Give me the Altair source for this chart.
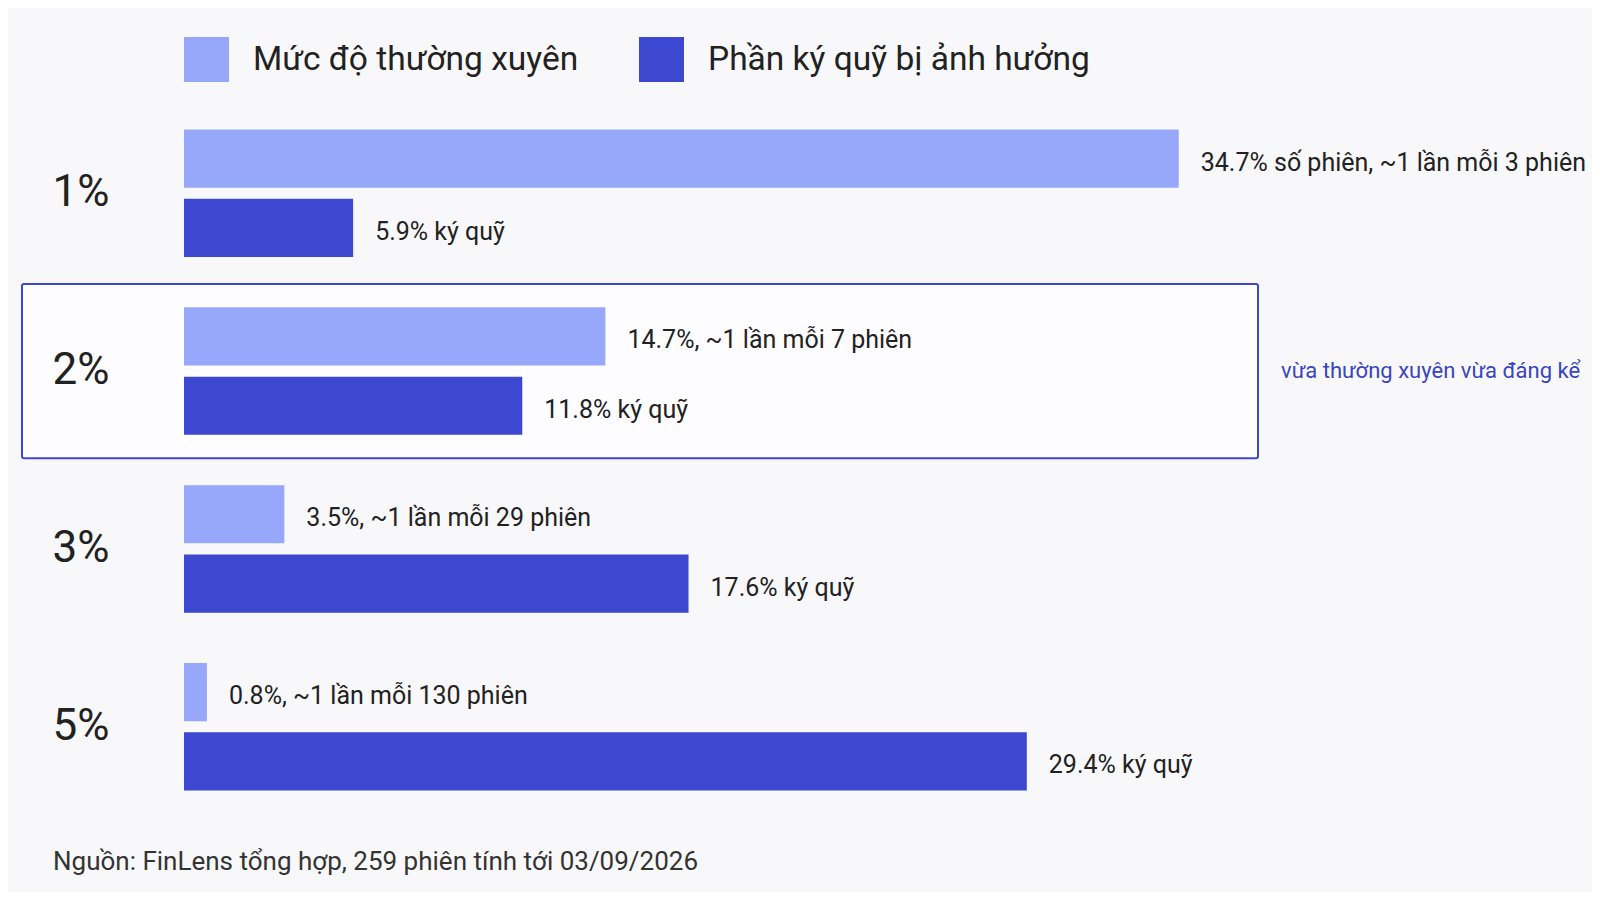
import altair as alt
import pandas as pd

levels = ["1%", "2%", "3%", "5%"]
series_order = ["Mức độ thường xuyên", "Phần ký quỹ bị ảnh hưởng"]
freq_values = [34.7, 14.7, 3.5, 0.8]
margin_values = [5.9, 11.8, 17.6, 29.4]
freq_labels = [
    "34.7% số phiên, ~1 lần mỗi 3 phiên",
    "14.7%, ~1 lần mỗi 7 phiên",
    "3.5%, ~1 lần mỗi 29 phiên",
    "0.8%, ~1 lần mỗi 130 phiên",
]
margin_labels = ["5.9% ký quỹ", "11.8% ký quỹ", "17.6% ký quỹ", "29.4% ký quỹ"]
highlight_level = "2%"
highlight_note = "vừa thường xuyên vừa đáng kể"
source_note = "Nguồn: FinLens tổng hợp, 259 phiên tính tới 03/09/2026"

LIGHT = "#97a7f9"
DARK = "#3c48cf"
FONT = "Roboto"
TEXT = "#222222"

rows = []
for lv, v, lb in zip(levels, freq_values, freq_labels):
    rows.append({"level": lv, "series": series_order[0], "value": v, "label": lb})
for lv, v, lb in zip(levels, margin_values, margin_labels):
    rows.append({"level": lv, "series": series_order[1], "value": v, "label": lb})
df = pd.DataFrame(rows)

W = 1075
H = 720

y_enc = alt.Y(
    "level:N",
    sort=levels,
    scale=alt.Scale(domain=levels, paddingInner=0.283, paddingOuter=0.166),
    axis=alt.Axis(
        title=None,
        labelFontSize=44,
        labelFont=FONT,
        labelColor=TEXT,
        labelAlign="left",
        labelBaseline="middle",
        labelPadding=132,
        ticks=False,
        tickSize=0,
        domain=False,
        grid=False,
        zindex=1,
    ),
)
yoff = alt.YOffset(
    "series:N",
    sort=series_order,
    scale=alt.Scale(domain=series_order, paddingInner=0.161, paddingOuter=0),
)
x_enc = alt.X(
    "value:Q",
    scale=alt.Scale(domain=[0, 37.5], nice=False, zero=True),
    axis=None,
)

base = alt.Chart(df).encode(y=y_enc, yOffset=yoff)

bars = base.mark_bar().encode(
    x=x_enc,
    color=alt.Color(
        "series:N",
        sort=series_order,
        scale=alt.Scale(domain=series_order, range=[LIGHT, DARK]),
        legend=alt.Legend(
            title=None,
            orient="none",
            legendX=0,
            legendY=-63,
            direction="horizontal",
            symbolType="square",
            symbolSize=2025,
            symbolStrokeWidth=0,
            symbolOpacity=1,
            labelFontSize=33.5,
            labelFont=FONT,
            labelColor=TEXT,
            labelOffset=24,
            columnPadding=60,
            padding=0,
            labelLimit=600,
        ),
    ),
)

labels = base.mark_text(
    align="left", baseline="middle", dx=22, dy=4, fontSize=25, font=FONT, color=TEXT
).encode(x=x_enc, text="label:N")

box_df = pd.DataFrame({"level": [highlight_level], "note": [highlight_note]})
box = alt.Chart(box_df).mark_bar(
    fill="#fdfdff",
    stroke=DARK,
    strokeWidth=2,
    cornerRadius=2,
    height={"band": 1.368},
).encode(
    y=alt.Y("level:N", sort=levels),
    x=alt.value(-162),
    x2=alt.value(1074),
)
note = alt.Chart(box_df).mark_text(
    align="left", baseline="middle", fontSize=22, font=FONT, color="#3a44c0"
).encode(
    y=alt.Y("level:N", sort=levels),
    x=alt.value(1097),
    text="note:N",
)

src_df = pd.DataFrame({"src": [source_note]})
source = alt.Chart(src_df).mark_text(
    align="left", baseline="middle", fontSize=26, font=FONT, color="#333333"
).encode(
    x=alt.value(-131),
    y=alt.value(762),
    text="src:N",
)

chart = (
    alt.layer(box, bars, labels, note, source)
    .properties(
        width=W,
        height=H,
        autosize=alt.AutoSizeParams(type="none"),
        padding={"left": 176, "top": 92, "right": 333, "bottom": 72},
        background="#f8f8fa",
    )
    .configure_view(stroke=None)
)

chart.save("out.html", embed_options={"renderer": "svg", "actions": False})
